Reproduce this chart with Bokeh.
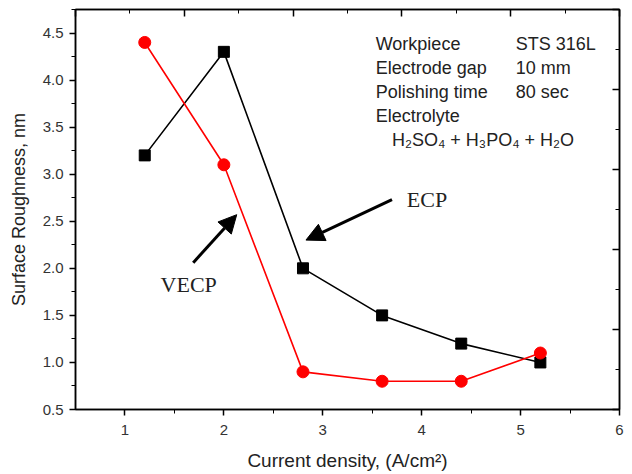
from bokeh.plotting import figure
from bokeh.models import (Range1d, LinearAxis, FixedTicker, Label, Arrow, NormalHead,
                          NumeralTickFormatter, ColumnDataSource)
from bokeh.embed import file_html
from bokeh.resources import INLINE

# ---- data ----
current_density = [1.2, 2.0, 2.8, 3.6, 4.4, 5.2]
ecp_roughness = [3.2, 4.3, 2.0, 1.5, 1.2, 1.0]
vecp_roughness = [4.4, 3.1, 0.9, 0.8, 0.8, 1.1]
x_ticks = [1, 2, 3, 4, 5, 6]
y_ticks = [0.5, 1.0, 1.5, 2.0, 2.5, 3.0, 3.5, 4.0, 4.5]
mirror_ticks = [0, 1, 2, 3, 4, 5]
info_left = ["Workpiece", "Electrode gap", "Polishing time", "Electrolyte"]
info_right = ["STS 316L", "10 mm", "80 sec", ""]
electrolyte = "H\u2082SO\u2084 +  H\u2083PO\u2084 + H\u2082O"

FONT = "Liberation Sans"

p = figure(width=632, height=474, x_range=Range1d(0.5, 6), y_range=Range1d(0.5, 4.75),
           output_backend="svg", toolbar_location=None,
           min_border_left=75, min_border_right=13, min_border_top=9, min_border_bottom=65,
           x_axis_label="Current density, (A/cm\u00b2)", y_axis_label="Surface Roughness, nm")
p.xgrid.visible = False
p.ygrid.visible = False
p.outline_line_color = "black"
p.outline_line_width = 1.5
p.background_fill_color = "white"
p.border_fill_color = "white"

# bottom axis
xa = p.xaxis[0]
xa.ticker = FixedTicker(ticks=x_ticks, minor_ticks=[1.5, 2.5, 3.5, 4.5, 5.5])
xa.major_tick_in = 0
xa.major_tick_out = 6
xa.minor_tick_in = 0
xa.minor_tick_out = 4
xa.axis_line_width = 1.5
xa.major_tick_line_width = 1.5
xa.major_label_standoff = 9
xa.major_label_text_font = FONT
xa.major_label_text_font_size = "15px"
xa.major_label_text_color = "#333333"
xa.axis_label_text_font = FONT
xa.axis_label_text_font_size = "19px"
xa.axis_label_text_font_style = "normal"
xa.axis_label_text_color = "#222222"
xa.axis_label_standoff = 12

# left axis
ya = p.yaxis[0]
ya.ticker = FixedTicker(ticks=y_ticks,
                        minor_ticks=[0.75, 1.25, 1.75, 2.25, 2.75, 3.25, 3.75, 4.25, 4.75])
ya.formatter = NumeralTickFormatter(format="0.0")
ya.major_tick_in = 0
ya.major_tick_out = 6
ya.minor_tick_in = 0
ya.minor_tick_out = 4
ya.axis_line_width = 1.5
ya.major_tick_line_width = 1.5
ya.major_label_standoff = 6
ya.major_label_text_font = FONT
ya.major_label_text_font_size = "15px"
ya.major_label_text_color = "#333333"
ya.axis_label_text_font = FONT
ya.axis_label_text_font_size = "18px"
ya.axis_label_text_font_style = "normal"
ya.axis_label_text_color = "#222222"
ya.axis_label_standoff = 11

# mirrored top / right axes (own scale as in the reference), ticks only
p.extra_x_ranges = {"top": Range1d(0, 5)}
p.extra_y_ranges = {"right": Range1d(0, 5)}
for loc in ("above", "right"):
    if loc == "above":
        ax = LinearAxis(x_range_name="top")
    else:
        ax = LinearAxis(y_range_name="right")
    ax.ticker = FixedTicker(ticks=mirror_ticks, minor_ticks=[0.5, 1.5, 2.5, 3.5, 4.5])
    ax.major_tick_in = 7
    ax.major_tick_out = 0
    ax.minor_tick_in = 4
    ax.minor_tick_out = 0
    ax.major_tick_line_width = 1.5
    ax.axis_line_width = 1.5
    ax.major_label_overrides = {t: "" for t in mirror_ticks}
    ax.major_label_text_color = None
    ax.major_label_text_font_size = "0px"
    ax.major_label_standoff = 0
    p.add_layout(ax, loc)

src = ColumnDataSource(dict(x=current_density, ecp=ecp_roughness, vecp=vecp_roughness))

p.line("x", "ecp", source=src, line_color="black", line_width=1.6)
p.scatter("x", "ecp", source=src, marker="square", size=11, fill_color="black", line_color="black")
p.line("x", "vecp", source=src, line_color="red", line_width=1.6)
p.scatter("x", "vecp", source=src, marker="circle", size=12, fill_color="red", line_color="red")

# info block
row_y = [4.38, 4.125, 3.87, 3.615]
for t, y in zip(info_left, row_y):
    p.add_layout(Label(x=3.535, y=y, text=t, text_font=FONT, text_font_size="18px",
                       text_color="#222222", text_baseline="middle"))
for t, y in zip(info_right, row_y):
    if t:
        p.add_layout(Label(x=4.95, y=y, text=t, text_font=FONT, text_font_size="18px",
                           text_color="#222222", text_baseline="middle"))
p.add_layout(Label(x=3.7, y=3.36, text=electrolyte, text_font=FONT, text_font_size="18px",
                   text_color="#222222", text_baseline="middle"))

# arrows and series names
p.add_layout(Arrow(x_start=3.70, y_start=2.73, x_end=2.83, y_end=2.30, line_width=3,
                   line_color="black",
                   end=NormalHead(size=18, fill_color="black", line_color="black")))
p.add_layout(Arrow(x_start=1.69, y_start=2.06, x_end=2.13, y_end=2.57, line_width=3,
                   line_color="black",
                   end=NormalHead(size=18, fill_color="black", line_color="black")))
p.add_layout(Label(x=3.85, y=2.73, text="ECP", text_font="Liberation Serif",
                   text_font_size="22px", text_color="#222222", text_baseline="middle"))
p.add_layout(Label(x=1.36, y=1.83, text="VECP", text_font="Liberation Serif",
                   text_font_size="22px", text_color="#222222", text_baseline="middle"))

open("out.html", "w").write(file_html(p, INLINE))
